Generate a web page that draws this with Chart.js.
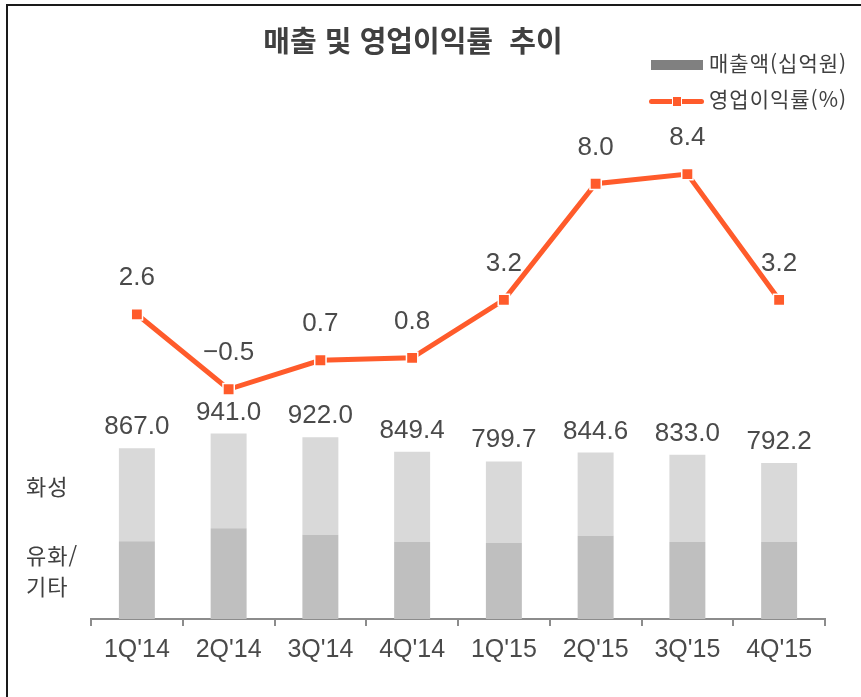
<!DOCTYPE html>
<html lang="ko">
<head>
<meta charset="utf-8">
<title>매출 및 영업이익률 추이</title>
<script src="https://cdn.jsdelivr.net/npm/chart.js@4.4.1/dist/chart.umd.min.js"></script>
<style>
    body { margin: 0; background: #fff; overflow: hidden; }
    #wrap { position: relative; width: 861px; height: 697px; overflow: hidden; }
    #salesChart { position: absolute; left: 0; top: 0; }
    .frame {
        position: absolute; left: 6px; top: 4px; width: 1000px; height: 1000px;
        border-left: 2px solid #1a1a1a; border-top: 2px solid #1a1a1a;
    }
    .txt { position: absolute; color: #404040; font-family: "Noto Sans CJK KR", sans-serif; line-height: 1; white-space: pre; }
    .title { left: 0; width: 826px; top: 25px; text-align: center; font-size: 29px; font-weight: 700; }
    .legend-text { left: 709px; font-size: 21px; letter-spacing: 1px; }
    .side { left: 26px; font-size: 22px; letter-spacing: 1px; }
    .swatch-bar { position: absolute; left: 651px; top: 60px; width: 52px; height: 10px; background: #808080; }
    .swatch-line { position: absolute; left: 649px; top: 99px; width: 55px; height: 5px; border-radius: 3px; background: #ff5b2b; }
    .swatch-mark { position: absolute; left: 672px; top: 96px; width: 8px; height: 9px; background: #ff5b2b; border: 1px solid #fff; }
</style>
</head>
<body>
<div id="wrap">
    <canvas id="salesChart" width="861" height="697"></canvas>
    <div class="frame"></div>
    <div class="txt title">매출 및 영업이익률  추이</div>
    <div class="swatch-bar"></div>
    <div class="txt legend-text" style="top:52px">매출액(십억원)</div>
    <div class="swatch-line"></div>
    <div class="swatch-mark"></div>
    <div class="txt legend-text" style="top:88px">영업이익률(%)</div>
    <div class="txt side" style="top:474px">화성</div>
    <div class="txt side" style="top:543px">유화/</div>
    <div class="txt side" style="top:574px">기타</div>
</div>
<script>
const categories = ["1Q'14", "2Q'14", "3Q'14", "4Q'14", "1Q'15", "2Q'15", "3Q'15", "4Q'15"];
// 매출액 합계 (십억원)
const salesTotal = [867.0, 941.0, 922.0, 849.4, 799.7, 844.6, 833.0, 792.2];
// 유화/기타 (아래 막대)
const petroOther = [394, 460, 428, 392, 387, 423, 391, 391];
// 화성 (위 막대)
const chemical = [473.0, 481.0, 494.0, 457.4, 412.7, 421.6, 442.0, 401.2];
// 영업이익률 (%)
const opMargin = [2.6, -0.5, 0.7, 0.8, 3.2, 8.0, 8.4, 3.2];

const orange = '#ff5b2b';
const textColor = '#4a4a4a';

const valueLabels = {
    id: 'valueLabels',
    afterDatasetsDraw(chart) {
        const ctx = chart.ctx;
        ctx.save();
        ctx.fillStyle = textColor;
        ctx.font = '26px "Liberation Sans", Arial, sans-serif';
        ctx.textAlign = 'center';
        ctx.textBaseline = 'alphabetic';
        chart.getDatasetMeta(1).data.forEach((bar, i) => {
            ctx.fillText(salesTotal[i].toFixed(1), bar.x, bar.y - 14);
        });
        chart.getDatasetMeta(2).data.forEach((pt, i) => {
            ctx.fillText(opMargin[i].toFixed(1).replace('-', '\u2212'), pt.x, pt.y - 29);
        });
        ctx.restore();
    }
};

function createSalesChart() {
    const ctx = document.getElementById('salesChart').getContext('2d');
    new Chart(ctx, {
        type: 'bar',
        data: {
            labels: categories,
            datasets: [
                {
                    label: '유화/기타',
                    data: petroOther,
                    backgroundColor: '#bfbfbf',
                    yAxisID: 'y',
                    order: 1,
                    categoryPercentage: 1,
                    barPercentage: 0.392
                },
                {
                    label: '화성',
                    data: chemical,
                    backgroundColor: '#d9d9d9',
                    yAxisID: 'y',
                    order: 1,
                    categoryPercentage: 1,
                    barPercentage: 0.392
                },
                {
                    type: 'line',
                    label: '영업이익률(%)',
                    data: opMargin,
                    yAxisID: 'y1',
                    order: 0,
                    borderColor: orange,
                    borderWidth: 5,
                    tension: 0,
                    pointStyle: 'rect',
                    pointRadius: 8,
                    pointBackgroundColor: orange,
                    pointBorderColor: '#ffffff',
                    pointBorderWidth: 1.5
                }
            ]
        },
        options: {
            responsive: false,
            animation: false,
            devicePixelRatio: 1,
            layout: {
                padding: { left: 91, right: 36, top: 87, bottom: 23 }
            },
            plugins: {
                legend: { display: false },
                title: { display: false },
                tooltip: { enabled: false }
            },
            scales: {
                x: {
                    stacked: true,
                    grid: {
                        offset: true,
                        drawOnChartArea: false,
                        drawTicks: true,
                        tickLength: 7,
                        color: '#8c8c8c',
                        lineWidth: 2
                    },
                    border: { display: true, color: '#8c8c8c', width: 2 },
                    ticks: {
                        color: textColor,
                        padding: 9,
                        font: { family: '"Liberation Sans", Arial, sans-serif', size: 25 }
                    }
                },
                y: { stacked: true, min: 0, max: 2700, display: false },
                y1: { min: -10, max: 12, display: false }
            }
        },
        plugins: [valueLabels]
    });
}

document.addEventListener('DOMContentLoaded', () => {
    createSalesChart();
});
</script>
</body>
</html>
